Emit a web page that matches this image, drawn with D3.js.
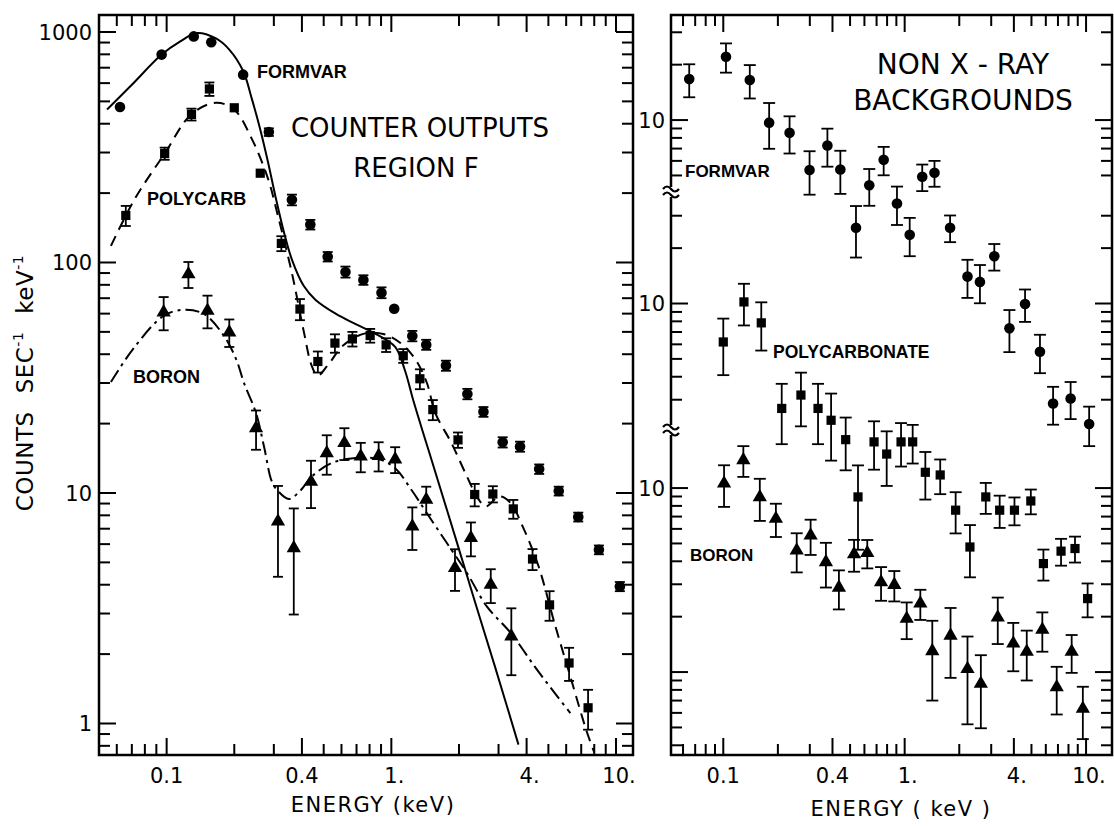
<!DOCTYPE html>
<html>
<head>
<meta charset="utf-8">
<script src="https://cdn.jsdelivr.net/npm/d3@7"></script>
<style>
body{margin:0;background:#fff;}
text{font-family:"DejaVu Sans",sans-serif;fill:#000;}
.lab{font-family:"Liberation Sans",Arial,sans-serif;font-weight:bold;}
</style>
</head>
<body>
<div id="chart"></div>
<script>
// ---- left panel: counter outputs, region F ----
var fvE=[0.062,0.095,0.132,0.158,0.219,0.285,0.361,0.436,0.521,0.625,0.751,0.904,1.03,1.24,1.43,1.75,2.18,2.57,3.13,3.74,4.55,5.56,6.79,8.39,10.4];
var fvV=[473,798,957,902,653,368,187,146,106,91,84,74,63,48,44,35.7,26.9,22.5,16.6,15.9,12.7,10.2,7.87,5.67,3.93];
var fvErr=[0,0,0,0,0,14,10,7,5,5,4,4,0,2.5,2.2,1.8,1.4,1.1,0.85,0.8,0.6,0.45,0.35,0.25,0.18];

var pcE=[0.0658,0.098,0.129,0.155,0.200,0.261,0.324,0.392,0.471,0.561,0.671,0.805,0.948,1.13,1.34,1.53,1.98,2.35,2.83,3.49,4.25,5.06,6.18,7.51];
var pcV=[160,297,439,566,469,244,121,62.8,37.2,44.7,46.6,48.2,43.9,39.4,31.3,23,17.0,9.85,9.9,8.53,5.17,3.27,1.83,1.17];
var pcErr=[16,18,26,38,0,0,9,6.6,3.9,4.1,3.4,3.3,3.0,2.7,3.1,2.3,1.3,1.1,0.8,0.8,0.54,0.48,0.3,0.23];

var bE=[0.097,0.125,0.152,0.190,0.250,0.313,0.368,0.439,0.516,0.618,0.731,0.878,1.04,1.24,1.43,1.92,2.26,2.77,3.42];
var bV=[60.8,89,61.8,49.8,19.1,7.53,5.77,11.2,14.9,16.5,14.4,14.5,14.0,7.16,9.35,4.73,6.38,4.00,2.39];
var bErr=[10,11.5,10,6.8,3.7,3.2,2.8,2.6,2.9,2.6,2.1,2.1,1.8,1.5,1.3,0.97,1.07,0.67,0.77];

// fitted curves
var fvFitE=[0.0543,0.07,0.095,0.115,0.136,0.165,0.19,0.219,0.24,0.261,0.283,0.307,0.333,0.361,0.408,0.459,0.565,0.694,0.851,1.04,1.15,1.25,1.57,1.92,2.35,2.89,3.68];
var fvFitV=[461,590,798,910,990,940,839,677,509,378,271,188,135,103,79,69,60,54,49,43,34,25.4,12.3,6.5,3.4,1.77,0.81];
var pcFitE=[0.0565,0.072,0.098,0.129,0.166,0.2,0.24,0.283,0.313,0.361,0.408,0.442,0.47,0.52,0.61,0.75,0.92,1.09,1.28,1.44,1.57,1.85,2.17,2.45,2.64,3.03,3.39,3.84,4.52,5.32,6.26,7.36,8.0];
var pcFitV=[118,188,297,440,493,460,342,230,159,90,50,35.7,32.3,35.7,43.6,49,49,45,38,30,22.2,16.5,11.8,9.35,8.75,9.66,9.06,7.17,4.81,2.73,1.6,0.94,0.75];
var bFitE=[0.0565,0.0707,0.097,0.12,0.147,0.18,0.204,0.221,0.25,0.272,0.294,0.313,0.35,0.392,0.443,0.543,0.693,0.885,1.04,1.23,1.44,1.77,2.17,2.66,3.40,4.34,5.32,6.26];
var bFitV=[30.3,42,58.7,62.4,59.7,48,38,30,22.2,15.7,11.2,10.2,9.42,10.2,11.8,13.5,14.2,14.0,12.8,10.3,8.17,6.05,4.5,3.22,2.47,1.77,1.36,1.11];

// ---- right panel: non X-ray backgrounds (three offset log scales) ----
var rfE=[0.0649,0.1035,0.140,0.179,0.232,0.299,0.375,0.442,0.539,0.638,0.766,0.907,1.066,1.25,1.46,1.78,2.22,2.60,3.12,3.78,4.61,5.57,6.58,8.22,10.4];
var rfV=[16.7,22.1,16.5,9.68,8.53,5.35,7.28,5.39,2.60,4.42,6.08,3.52,2.38,4.92,5.17,2.60,1.41,1.32,1.82,0.738,1.0,0.551,0.288,0.307,0.223];
var rfErr=[3.4,4,3.4,2.7,1.95,1.42,1.7,1.42,0.81,1.0,1.07,0.83,0.56,0.81,0.83,0.43,0.33,0.31,0.3,0.19,0.2,0.13,0.067,0.07,0.054];

var rpE=[0.1,0.130,0.162,0.210,0.268,0.333,0.393,0.473,0.553,0.678,0.796,0.955,1.107,1.30,1.57,1.91,2.29,2.80,3.34,4.03,4.96,5.82,7.28,8.69,10.2];
var rpV=[6.18,10.2,7.85,2.69,3.18,2.69,2.32,1.82,0.889,1.77,1.52,1.77,1.77,1.21,1.17,0.753,0.475,0.889,0.753,0.753,0.845,0.386,0.451,0.466,0.249];
var rpErr=[2.1,2.6,2.3,0.97,1.03,0.97,0.92,0.58,0.43,0.52,0.5,0.47,0.42,0.35,0.25,0.19,0.15,0.17,0.15,0.13,0.13,0.074,0.075,0.075,0.052];

var rbE=[0.101,0.129,0.159,0.195,0.254,0.303,0.368,0.434,0.526,0.622,0.741,0.877,1.026,1.22,1.42,1.79,2.22,2.63,3.26,3.97,4.71,5.74,6.89,8.33,9.60];
var rbV=[10.6,14.2,8.93,6.82,4.58,5.53,3.96,2.88,4.37,4.44,3.08,2.98,1.95,2.36,1.30,1.58,1.04,0.865,1.98,1.43,1.29,1.70,0.828,1.29,0.632];
var rbErr=[2.7,2.7,2.3,1.4,1.1,1.2,1.08,0.69,0.86,0.78,0.64,0.56,0.44,0.44,0.6,0.65,0.52,0.37,0.56,0.42,0.39,0.41,0.24,0.3,0.2];

// axis values
var xTickLabels=["0.1","0.4","1.","4.","10."];
var xLabelVals=[0.1,0.4,1,4,10];
var yLeftLabels=["1","10","100","1000"];
var rightTopLog=[1.571,2.568,3.571];   // log10 of value at panel top, per section
var rightTicks=[[5,6,7,8,9,10,20,30],[3,4,5,6,7,8,9,10,20,30],[0.4,0.5,0.6,0.7,0.8,0.9,1,2,3,4,5,6,7,8,9,10]];

var w=1114,h=826;
var top0=15,bot0=755;
var svg=d3.select("#chart").append("svg").attr("width",w).attr("height",h);

var xL=d3.scaleLog().domain([0.05,11.9]).range([99,633]);
var yL=d3.scaleLog().domain([0.73,1185]).range([bot0,top0]);
var xR=d3.scaleLog().domain([0.0515,13.9]).range([671,1112]);
var rDecades=(bot0-top0)/184;
var yR=rightTopLog.map(function(t){
  return d3.scaleLog().domain([Math.pow(10,t-rDecades),Math.pow(10,t)]).range([bot0,top0]);
});

function logTicks(lo,hi){
  var out=[];
  for(var k=-3;k<=4;k++){
    for(var m=1;m<10;m++){
      var v=m*Math.pow(10,k);
      if(v>lo*1.001&&v<hi*0.999) out.push(v);
    }
  }
  return out;
}
function isPow10(v){var l=Math.log10(v);return Math.abs(l-Math.round(l))<1e-6;}
function isLabX(v){return xLabelVals.some(function(t){return Math.abs(t-v)/t<1e-6;});}

function frame(g,x,y){
  var x0=x.range()[0],x1=x.range()[1];
  g.append("rect").attr("x",x0).attr("y",top0).attr("width",x1-x0).attr("height",bot0-top0)
    .attr("fill","none").attr("stroke","#000").attr("stroke-width",2.5);
  var xt=logTicks(x.domain()[0],x.domain()[1]);
  xt.forEach(function(v){
    var len=isLabX(v)?17:11;
    g.append("line").attr("x1",x(v)).attr("x2",x(v)).attr("y1",bot0).attr("y2",bot0-len)
      .attr("stroke","#000").attr("stroke-width",2);
    g.append("line").attr("x1",x(v)).attr("x2",x(v)).attr("y1",top0).attr("y2",top0+len)
      .attr("stroke","#000").attr("stroke-width",2);
  });
  xLabelVals.forEach(function(v,i){
    var lab=xTickLabels[i];
    g.append("text").attr("x",x(v)).attr("y",783).attr("text-anchor","middle")
      .attr("dx",lab.slice(-1)==="."?3:0)
      .style("font-size","21px").text(lab);
  });
}

function yTicks(g,y,vals,x0,x1){
  vals.forEach(function(v){
    var len=isPow10(v)?17:11;
    g.append("line").attr("x1",x0).attr("x2",x0+len).attr("y1",y(v)).attr("y2",y(v))
      .attr("stroke","#000").attr("stroke-width",2);
    g.append("line").attr("x1",x1).attr("x2",x1-len).attr("y1",y(v)).attr("y2",y(v))
      .attr("stroke","#000").attr("stroke-width",2);
  });
}

function series(g,x,y,E,V,Err,shape,cap){
  E.forEach(function(e,i){
    var cx=x(e),cy=y(V[i]);
    if(Err[i]>0){
      var hi=y(V[i]+Err[i]),lo=y(V[i]-Err[i]);
      g.append("line").attr("x1",cx).attr("x2",cx).attr("y1",hi).attr("y2",lo)
        .attr("stroke","#000").attr("stroke-width",1.8);
      [hi,lo].forEach(function(yy){
        g.append("line").attr("x1",cx-cap/2).attr("x2",cx+cap/2).attr("y1",yy).attr("y2",yy)
          .attr("stroke","#000").attr("stroke-width",1.8);
      });
    }
    if(shape==="circle"){
      g.append("circle").attr("cx",cx).attr("cy",cy).attr("r",5.3).attr("fill","#000");
    }else if(shape==="square"){
      g.append("rect").attr("x",cx-4.6).attr("y",cy-4.6).attr("width",9.2).attr("height",9.2).attr("fill","#000");
    }else{
      g.append("path").attr("d",d3.symbol().type(d3.symbolTriangle).size(88)())
        .attr("transform","translate("+cx+","+cy+")").attr("fill","#000");
    }
  });
}

function fitLine(g,x,y,E,V,dash){
  var pts=E.map(function(e,i){return [x(e),y(V[i])];});
  g.append("path").attr("d",d3.line().curve(d3.curveCatmullRom.alpha(0.5))(pts))
    .attr("fill","none").attr("stroke","#000").attr("stroke-width",2)
    .attr("stroke-dasharray",dash);
}

// ---- left panel ----
var gL=svg.append("g");
frame(gL,xL,yL);
yTicks(gL,yL,logTicks(0.73,1185),99,633);
yLeftLabels.forEach(function(s){
  gL.append("text").attr("x",92).attr("y",yL(+s)).attr("dy","0.36em")
    .attr("text-anchor","end").style("font-size","21px").text(s);
});
fitLine(gL,xL,yL,fvFitE,fvFitV,null);
fitLine(gL,xL,yL,pcFitE,pcFitV,"11,7");
fitLine(gL,xL,yL,bFitE,bFitV,"14,5,3,5");
series(gL,xL,yL,fvE,fvV,fvErr,"circle",10);
series(gL,xL,yL,pcE,pcV,pcErr,"square",10);
series(gL,xL,yL,bE,bV,bErr,"triangle",10);

gL.append("text").attr("class","lab").attr("x",257).attr("y",78).style("font-size","18px").text("FORMVAR");
gL.append("text").attr("class","lab").attr("x",147).attr("y",205).style("font-size","18px").text("POLYCARB");
gL.append("text").attr("class","lab").attr("x",133).attr("y",383).style("font-size","18px").text("BORON");
gL.append("text").attr("x",420).attr("y",137).attr("text-anchor","middle").style("font-size","26px").text("COUNTER  OUTPUTS");
gL.append("text").attr("x",416).attr("y",177).attr("text-anchor","middle").style("font-size","26px").text("REGION F");

gL.append("text").attr("x",373).attr("y",812).attr("text-anchor","middle")
  .style("font-size","21px").style("letter-spacing","1.5px").text("ENERGY  (keV)");

var yt=gL.append("text").attr("transform","translate(33,383) rotate(-90)")
  .attr("text-anchor","middle").style("font-size","23px").style("letter-spacing","0.5px");
yt.append("tspan").text("COUNTS");
yt.append("tspan").attr("dx",18).text("SEC");
yt.append("tspan").attr("dy",-10).style("font-size","14px").text("-1");
yt.append("tspan").attr("dy",10).attr("dx",18).text("keV");
yt.append("tspan").attr("dy",-10).style("font-size","14px").text("-1");

// ---- right panel ----
var gR=svg.append("g");
frame(gR,xR,yR[0]);
yR.forEach(function(y,i){
  yTicks(gR,y,rightTicks[i],671,1112);
  gR.append("text").attr("x",665).attr("y",y(10)).attr("dy","0.36em")
    .attr("text-anchor","end").style("font-size","21px").text("10");
});
// axis breaks
[192,430].forEach(function(yy){
  gR.append("rect").attr("x",666).attr("y",yy-5).attr("width",10).attr("height",10).attr("fill","#fff");
  [-3,3].forEach(function(o){
    gR.append("path").attr("d","M663,"+(yy+o)+" q4,-5 8,0 t8,0")
      .attr("fill","none").attr("stroke","#000").attr("stroke-width",2.2);
  });
});
series(gR,xR,yR[0],rfE,rfV,rfErr,"circle",12);
series(gR,xR,yR[1],rpE,rpV,rpErr,"square",12);
series(gR,xR,yR[2],rbE,rbV,rbErr,"triangle",12);

gR.append("text").attr("x",963).attr("y",74).attr("text-anchor","middle").style("font-size","28px").text("NON  X - RAY");
gR.append("text").attr("x",963).attr("y",110).attr("text-anchor","middle").style("font-size","28px").text("BACKGROUNDS");
gR.append("text").attr("class","lab").attr("x",685).attr("y",177).style("font-size","17px").text("FORMVAR");
gR.append("text").attr("class","lab").attr("x",773).attr("y",358).style("font-size","17.5px").text("POLYCARBONATE");
gR.append("text").attr("class","lab").attr("x",690).attr("y",561).style("font-size","17px").text("BORON");
gR.append("text").attr("x",901).attr("y",816).attr("text-anchor","middle")
  .style("font-size","21px").style("letter-spacing","1.5px").text("ENERGY ( keV )");
</script>
</body>
</html>
